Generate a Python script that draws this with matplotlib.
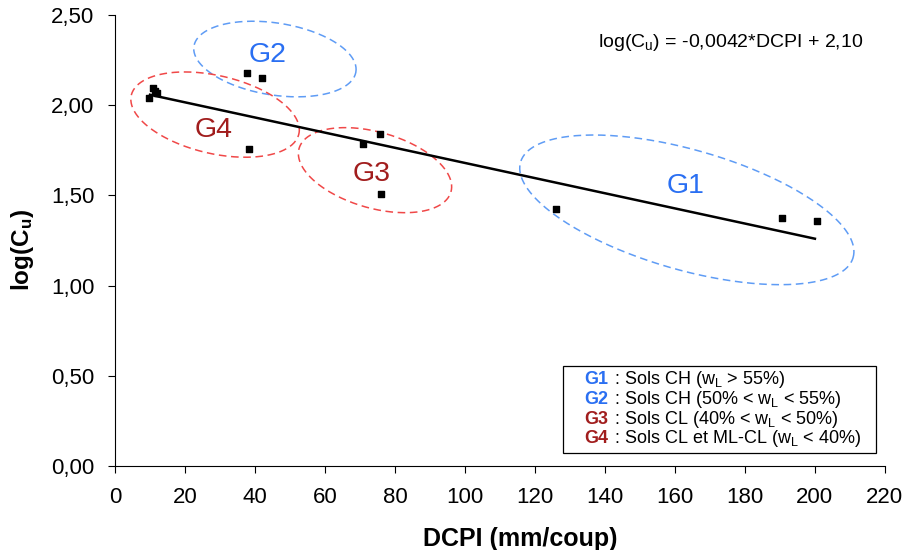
import numpy as np
import matplotlib
matplotlib.use('Agg')
import matplotlib.pyplot as plt
from matplotlib.ticker import FuncFormatter, MultipleLocator
from matplotlib.patches import Rectangle

plt.rcParams['font.family'] = ['Liberation Sans', 'DejaVu Sans']
plt.rcParams['mathtext.fontset'] = 'custom'
plt.rcParams['mathtext.rm'] = 'Liberation Sans'
plt.rcParams['mathtext.it'] = 'Liberation Sans:italic'
plt.rcParams['mathtext.bf'] = 'Liberation Sans:bold'

# data points (DCPI, log Cu)
dcpi = [9.7, 10.9, 12, 11.5, 37.7, 42, 38.3, 70.9, 75.7, 76, 126, 190.5, 200.5]
logcu = [2.04, 2.095, 2.07, 2.08, 2.18, 2.15, 1.76, 1.785, 1.84, 1.51, 1.425, 1.375, 1.36]

# regression
slope = -0.0042
intercept = 2.10
fit_x = [10, 200]

# groups: label, center, semi axes (px), angle (deg), label position, colors
groups = ['G1', 'G2', 'G3', 'G4']
centers = [(163.4, 1.42), (45.7, 2.256), (74.3, 1.64), (28.6, 1.948)]
semi_axes = [(173, 60), (82, 36), (79, 38), (86, 39)]
angles = [-16, -9, -16, -13]
label_pos = [(162.9, 1.55), (43.7, 2.28), (73.4, 1.62), (28.3, 1.86)]
ell_colors = ['#5f9cf5', '#5f9cf5', '#f04848', '#f04848']
txt_colors = ['#2a6ff2', '#2a6ff2', '#a11d1d', '#a11d1d']
legend_lines = [r' : Sols CH (w$_\mathrm{L}$ > 55%)',
                r' : Sols CH (50% < w$_\mathrm{L}$ < 55%)',
                r' : Sols CL (40% < w$_\mathrm{L}$ < 50%)',
                r' : Sols CL et ML-CL (w$_\mathrm{L}$ < 40%)']

fig = plt.figure(figsize=(9.09, 5.5), dpi=100)
ax = fig.add_axes([0.1265, 0.1527, 0.847, 0.82])
ax.set_xlim(0, 220)
ax.set_ylim(0, 2.5)

# px per data unit (for ellipse shapes)
sx = 770 / 220.0
sy = 451 / 2.5

t = np.linspace(0, 2 * np.pi, 300)
for i in range(len(groups)):
    a, b = semi_axes[i]
    th = np.radians(angles[i])
    px = a * np.cos(t) * np.cos(th) - b * np.sin(t) * np.sin(th)
    py = a * np.cos(t) * np.sin(th) + b * np.sin(t) * np.cos(th)
    ax.plot(centers[i][0] + px / sx, centers[i][1] + py / sy, '--',
            color=ell_colors[i], lw=1.1, dashes=(5, 3))
    ax.text(label_pos[i][0], label_pos[i][1], groups[i], color=txt_colors[i],
            fontsize=20.5, ha='center', va='center')

fx = np.array(fit_x)
ax.plot(fx, slope * fx + intercept, color='black', lw=1.8)
ax.scatter(dcpi, logcu, marker='s', s=20, color='black', zorder=5)

ax.text(0.80, 0.938, r'log(C$_\mathrm{u}$) = -0,0042*DCPI + 2,10',
        transform=ax.transAxes, ha='center', va='center', fontsize=14)

# legend box
ax.add_patch(Rectangle((0.582, 0.029), 0.406, 0.193, transform=ax.transAxes,
                       fill=False, edgecolor='black', lw=0.9))
ys = [0.191, 0.147, 0.104, 0.061]
for i in range(len(groups)):
    tg = ax.text(0.610, ys[i], groups[i], transform=ax.transAxes, color=txt_colors[i],
                 fontweight='bold', fontsize=13, va='center')
    ax.annotate(legend_lines[i], xy=(1, 0.5), xycoords=tg, va='center',
                fontsize=13, color='black')

ax.spines['top'].set_visible(False)
ax.spines['right'].set_visible(False)
ax.xaxis.set_major_locator(MultipleLocator(20))
ax.yaxis.set_major_locator(MultipleLocator(0.5))
ax.yaxis.set_major_formatter(FuncFormatter(lambda v, p: ('%.2f' % v).replace('.', ',')))
ax.tick_params(labelsize=16, direction='out', length=5, pad=10)
ax.set_xlabel('DCPI (mm/coup)', fontsize=18, fontweight='bold', labelpad=14, x=0.526)
ax.set_ylabel(r'log(C$_\mathbf{u}$)', fontsize=17.5, fontweight='bold', labelpad=11, y=0.479)

plt.savefig('out.png', dpi=100)
